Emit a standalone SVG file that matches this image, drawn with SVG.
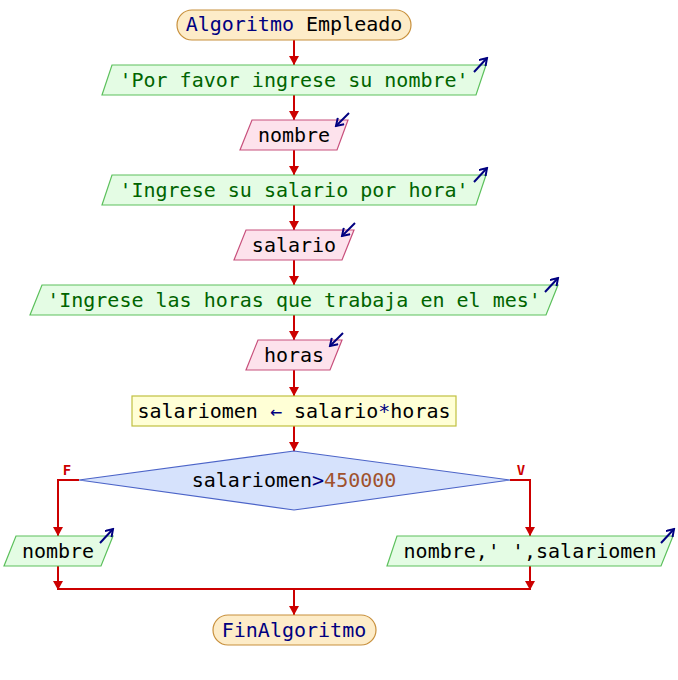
<svg xmlns="http://www.w3.org/2000/svg" width="678" height="680" viewBox="0 0 678 680">
  <style>
    text { font-family: "DejaVu Sans Mono", "Liberation Mono", monospace; font-size: 20px; text-anchor: middle; }
    .term { fill: #fdecc8; stroke: #c8903c; stroke-width: 1.2; }
    .out { fill: #e4fce4; stroke: #5cc05c; stroke-width: 1.2; }
    .in { fill: #fde2ec; stroke: #c8507c; stroke-width: 1.2; }
    .asg { fill: #ffffd6; stroke: #c0c040; stroke-width: 1.2; }
    .dec { fill: #d6e2fc; stroke: #4c64c8; stroke-width: 1.2; }
    .kw { fill: #000080; }
    .str { fill: #006400; }
    .num { fill: #a0522d; }
    .var { fill: #000000; }
    .flow { fill: none; stroke: #cc0000; stroke-width: 2; }
    .icon { fill: none; stroke: #000080; stroke-width: 2; }
    .lbl { fill: #cc0000; font-size: 14px; font-weight: bold; }
  </style>
  <defs>
    <!-- red flow arrowhead, tip at the end of the line -->
    <marker id="head" markerUnits="userSpaceOnUse" markerWidth="10" markerHeight="12" refX="9" refY="6" orient="auto" viewBox="0 0 10 12">
      <path d="M0,1 L9,6 L0,11 Z" fill="#cc0000"/>
    </marker>
    <!-- open navy chevron for read/write icons -->
    <marker id="tip" markerUnits="userSpaceOnUse" markerWidth="10" markerHeight="10" refX="8" refY="5" orient="auto" viewBox="0 0 10 10">
      <path d="M1,0.5 L8,5 L1,9.5" fill="none" stroke="#000080" stroke-width="2"/>
    </marker>
  </defs>

  <!-- connectors -->
  <g id="connectors">
    <g class="flow">
      <line x1="294" y1="40" x2="294" y2="65" marker-end="url(#head)"/>
      <line x1="294" y1="95" x2="294" y2="120" marker-end="url(#head)"/>
      <line x1="294" y1="150" x2="294" y2="175" marker-end="url(#head)"/>
      <line x1="294" y1="205" x2="294" y2="230" marker-end="url(#head)"/>
      <line x1="294" y1="260" x2="294" y2="285" marker-end="url(#head)"/>
      <line x1="294" y1="315" x2="294" y2="340" marker-end="url(#head)"/>
      <line x1="294" y1="370" x2="294" y2="396" marker-end="url(#head)"/>
      <line x1="294" y1="426" x2="294" y2="451" marker-end="url(#head)"/>
      <polyline points="79,480 58,480 58,536" marker-end="url(#head)"/>
      <polyline points="510,480 530,480 530,536" marker-end="url(#head)"/>
      <line x1="58" y1="566" x2="58" y2="590" marker-end="url(#head)"/>
      <line x1="530" y1="566" x2="530" y2="590" marker-end="url(#head)"/>
      <line x1="58" y1="589" x2="530" y2="589"/>
      <line x1="294" y1="589" x2="294" y2="615" marker-end="url(#head)"/>
    </g>
    <text class="lbl" x="67" y="475">F</text>
    <text class="lbl" x="521" y="475">V</text>
  </g>

  <g id="inicio">
    <rect class="term" x="177" y="10" width="234" height="30" rx="15" ry="15"/>
    <text x="294" y="31"><tspan class="kw">Algoritmo</tspan><tspan class="var"> Empleado</tspan></text>
  </g>

  <g id="escribir1">
    <polygon class="out" points="112,65 486,65 476,95 102,95"/>
    <text class="str" x="294" y="87">'Por favor ingrese su nombre'</text>
    <line class="icon" x1="474" y1="72" x2="487" y2="58" marker-end="url(#tip)"/>
  </g>

  <g id="leer-nombre">
    <polygon class="in" points="252,120 348,120 337,150 240,150"/>
    <text class="var" x="294" y="142">nombre</text>
    <line class="icon" x1="349" y1="113" x2="336" y2="126" marker-end="url(#tip)"/>
  </g>

  <g id="escribir2">
    <polygon class="out" points="112,175 486,175 476,205 102,205"/>
    <text class="str" x="294" y="197">'Ingrese su salario por hora'</text>
    <line class="icon" x1="474" y1="182" x2="487" y2="168" marker-end="url(#tip)"/>
  </g>

  <g id="leer-salario">
    <polygon class="in" points="246,230 354,230 342,260 234,260"/>
    <text class="var" x="294" y="252">salario</text>
    <line class="icon" x1="355" y1="223" x2="342" y2="236" marker-end="url(#tip)"/>
  </g>

  <g id="escribir3">
    <polygon class="out" points="42,285 558,285 546,315 30,315"/>
    <text class="str" x="294" y="307">'Ingrese las horas que trabaja en el mes'</text>
    <line class="icon" x1="545" y1="292" x2="558" y2="278" marker-end="url(#tip)"/>
  </g>

  <g id="leer-horas">
    <polygon class="in" points="258,340 342,340 330,370 246,370"/>
    <text class="var" x="294" y="362">horas</text>
    <line class="icon" x1="343" y1="333" x2="330" y2="346" marker-end="url(#tip)"/>
  </g>

  <g id="asignacion">
    <rect class="asg" x="132" y="396" width="324" height="30"/>
    <text x="294" y="418"><tspan class="var">salariomen </tspan><tspan class="kw">←</tspan><tspan class="var"> salario</tspan><tspan class="kw">*</tspan><tspan class="var">horas</tspan></text>
  </g>

  <g id="si">
    <polygon class="dec" points="294,451 510,480 294,510 79,480"/>
    <text x="294" y="487"><tspan class="var">salariomen</tspan><tspan class="kw">&gt;</tspan><tspan class="num">450000</tspan></text>
  </g>

  <g id="escribir-falso">
    <polygon class="out" points="16,536 113,536 101,566 4,566"/>
    <text class="var" x="58" y="558">nombre</text>
    <line class="icon" x1="100" y1="543" x2="113" y2="529" marker-end="url(#tip)"/>
  </g>

  <g id="escribir-verdadero">
    <polygon class="out" points="397,536 673,536 661,566 387,566"/>
    <text class="var" x="530" y="558">nombre,' ',salariomen</text>
    <line class="icon" x1="661" y1="543" x2="674" y2="529" marker-end="url(#tip)"/>
  </g>

  <g id="fin">
    <rect class="term" x="213" y="615" width="163" height="30" rx="15" ry="15"/>
    <text class="kw" x="294" y="637">FinAlgoritmo</text>
  </g>
</svg>
